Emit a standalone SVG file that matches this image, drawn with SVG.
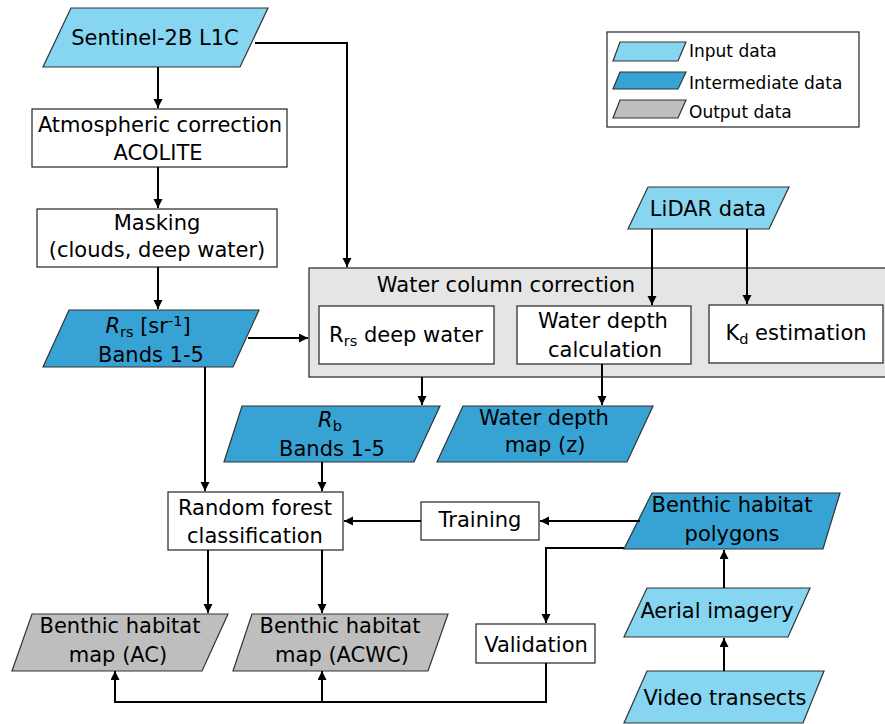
<svg xmlns="http://www.w3.org/2000/svg" width="885" height="724" viewBox="0 0 885 724">
<defs>
<marker id="ah" markerWidth="10" markerHeight="10" refX="9" refY="4.5" orient="auto" markerUnits="userSpaceOnUse">
<path d="M0,0 L9,4.5 L0,9 z" fill="#000"/>
</marker>
<style>
text{font-family:"DejaVu Sans","Liberation Sans",sans-serif;font-size:21px;fill:#000;text-anchor:middle}
.leg{font-size:17px;text-anchor:start}
.box{fill:#fff;stroke:#333;stroke-width:1.3}
.in{fill:#86d5f1;stroke:#333;stroke-width:1.2}
.mid{fill:#37a3d4;stroke:#333;stroke-width:1.2}
.out{fill:#bebebe;stroke:#333;stroke-width:1.2}
.grp{fill:#e5e5e5;stroke:#333;stroke-width:1.3}
.c{fill:none;stroke:#000;stroke-width:2}
.a{marker-end:url(#ah)}
.sub{font-size:14.5px}
</style>
</defs>
<rect width="885" height="724" fill="#fff"/>

<g id="legend">
<rect x="607" y="32" width="252" height="95" fill="#fff" stroke="#333" stroke-width="1.3"/>
<polygon class="in" points="620,42 686,42 678,61 613,61"/>
<polygon class="mid" points="620,72 686,72 678,89 613,89"/>
<polygon class="out" points="620,100 686,100 678,118 613,118"/>
<text class="leg" x="689" y="57">Input data</text>
<text class="leg" x="689" y="89">Intermediate data</text>
<text class="leg" x="689" y="118">Output data</text>
</g>

<g id="water-column-correction">
<rect class="grp" x="309" y="268" width="600" height="109"/>
<text x="506" y="292">Water column correction</text>
</g>

<g id="sentinel">
<polygon class="in" points="71,8 268,8 240,67 43,67"/>
<text x="155" y="45">Sentinel-2B L1C</text>
</g>
<g id="atmospheric">
<rect class="box" x="32" y="109" width="255" height="58"/>
<text x="160" y="132">Atmospheric correction</text>
<text x="158" y="160">ACOLITE</text>
</g>
<g id="masking">
<rect class="box" x="37" y="209" width="240" height="58"/>
<text x="157" y="230">Masking</text>
<text x="157" y="257">(clouds, deep water)</text>
</g>
<g id="rrs">
<polygon class="mid" points="69,310 259,310 233,367 43,367"/>
<text x="148" y="333"><tspan font-style="italic">R</tspan><tspan class="sub" dy="4">rs</tspan><tspan dy="-4"> [sr</tspan><tspan class="sub" dy="-7">-1</tspan><tspan dy="7">]</tspan></text>
<text x="151" y="362">Bands 1-5</text>
</g>
<g id="lidar">
<polygon class="in" points="648,187 789,187 769,229 628,229"/>
<text x="708" y="216">LiDAR data</text>
</g>
<g id="rrs-deep">
<rect class="box" x="319" y="306" width="175" height="58"/>
<text x="406" y="342">R<tspan class="sub" dy="4">rs</tspan><tspan dy="-4"> deep water</tspan></text>
</g>
<g id="depth-calc">
<rect class="box" x="517" y="306" width="174" height="58"/>
<text x="603" y="328">Water depth</text>
<text x="605" y="357">calculation</text>
</g>
<g id="kd">
<rect class="box" x="709" y="305" width="174" height="58"/>
<text x="796" y="340">K<tspan class="sub" dy="4">d</tspan><tspan dy="-4"> estimation</tspan></text>
</g>
<g id="rb">
<polygon class="mid" points="242,406 440,406 414,462 224,462"/>
<text x="330" y="427"><tspan font-style="italic">R</tspan><tspan class="sub" dy="4">b</tspan></text>
<text x="332" y="456">Bands 1-5</text>
</g>
<g id="depth-map">
<polygon class="mid" points="463,406 653,406 627,462 437,462"/>
<text x="544" y="425">Water depth</text>
<text x="545" y="452">map (z)</text>
</g>
<g id="random-forest">
<rect class="box" x="168" y="492" width="175" height="58"/>
<text x="255" y="515">Random forest</text>
<text x="255" y="543">classification</text>
</g>
<g id="training">
<rect class="box" x="421" y="502" width="118" height="38"/>
<text x="480" y="527">Training</text>
</g>
<g id="polygons">
<polygon class="mid" points="652,493 840,493 823,549 624,549"/>
<text x="732" y="512">Benthic habitat</text>
<text x="732" y="541">polygons</text>
</g>
<g id="map-ac">
<polygon class="out" points="32,614 228,614 202,671 12,671"/>
<text x="120" y="633">Benthic habitat</text>
<text x="118" y="662">map (AC)</text>
</g>
<g id="map-acwc">
<polygon class="out" points="252,614 448,614 428,671 233,671"/>
<text x="340" y="633">Benthic habitat</text>
<text x="342" y="662">map (ACWC)</text>
</g>
<g id="validation">
<rect class="box" x="476" y="624" width="119" height="39"/>
<text x="536" y="652">Validation</text>
</g>
<g id="aerial">
<polygon class="in" points="647,588 810,588 788,637 624,637"/>
<text x="717" y="618">Aerial imagery</text>
</g>
<g id="video">
<polygon class="in" points="647,671 824,671 803,723 624,723"/>
<text x="725" y="705">Video transects</text>
</g>

<g id="connectors">
<path class="c a" d="M158,67 V108"/>
<path class="c a" d="M158,167 V208"/>
<path class="c a" d="M158,267 V309"/>
<path class="c a" d="M255,43 H347 V267"/>
<path class="c a" d="M248,338 H308"/>
<path class="c a" d="M652,229 V305"/>
<path class="c a" d="M747,229 V304"/>
<path class="c a" d="M422,377 V405"/>
<path class="c a" d="M602,364 V405"/>
<path class="c a" d="M205,367 V491"/>
<path class="c a" d="M322,462 V491"/>
<path class="c a" d="M421,521 H344"/>
<path class="c a" d="M640,521 H540"/>
<path class="c a" d="M624,548 H546 V623"/>
<path class="c a" d="M208,550 V613"/>
<path class="c a" d="M322,550 V613"/>
<path class="c a" d="M546,663 V702 H115 V671"/>
<path class="c a" d="M322,702 V671"/>
<path class="c a" d="M724,671 V638"/>
<path class="c a" d="M724,588 V550"/>
</g>
</svg>
